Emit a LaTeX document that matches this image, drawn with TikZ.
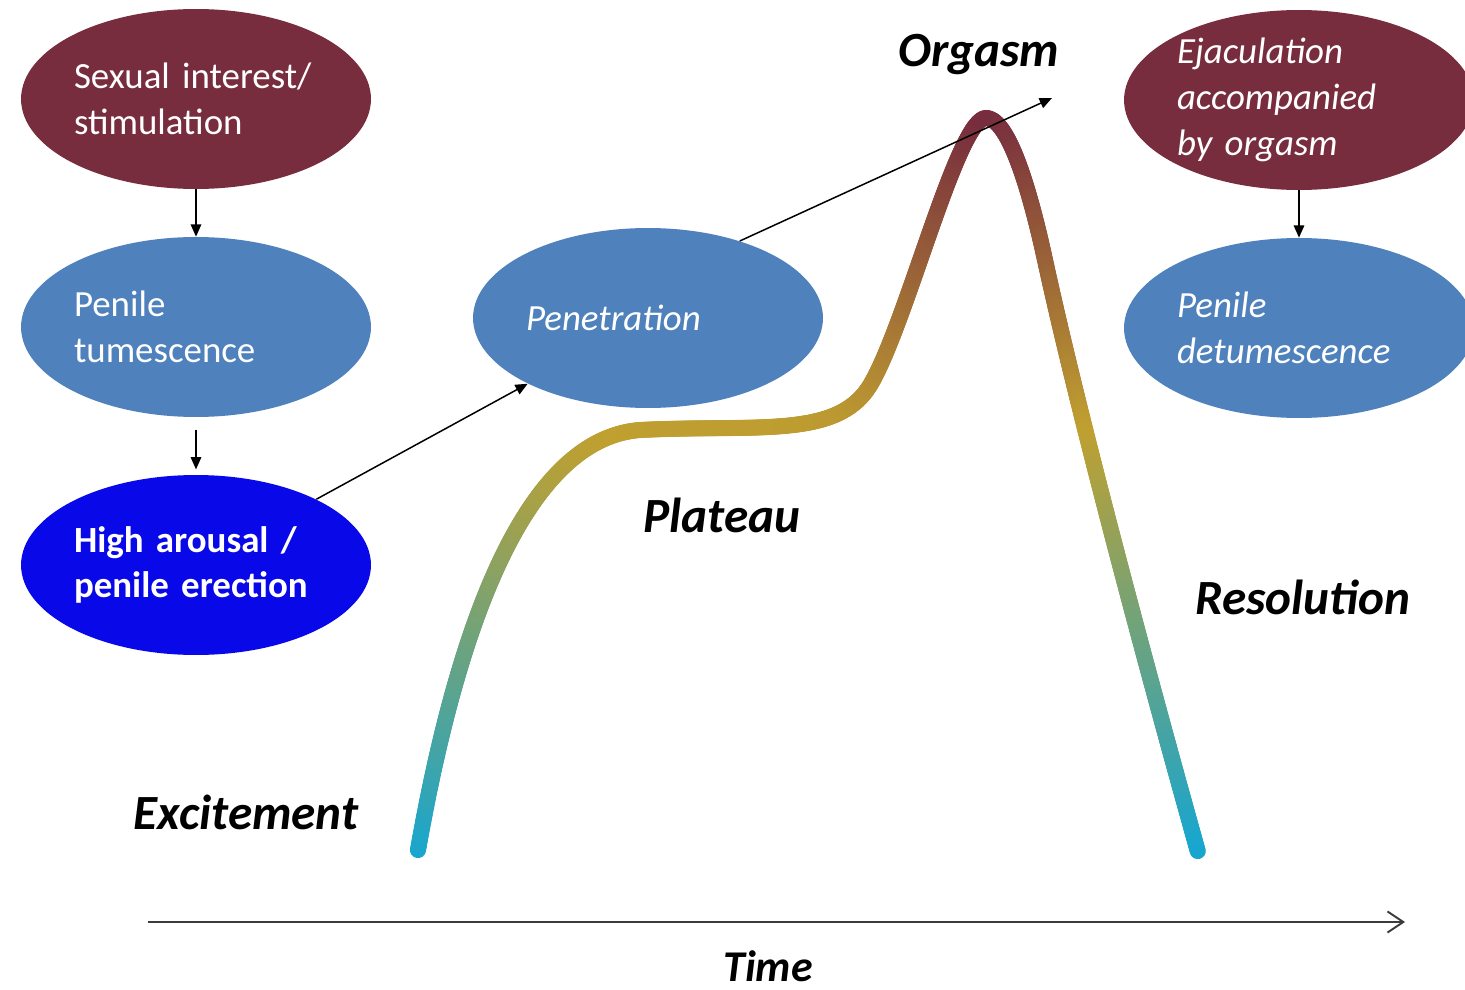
\documentclass[tikz,border=0pt]{standalone}
\usepackage{fontspec}
\setmainfont{Carlito}
\usepackage{tikz}
\usetikzlibrary{
  arrows.meta,
  positioning,
  shapes.geometric,
  decorations.markings
}
\definecolor{wine}{RGB}{120,45,62}
\definecolor{steel}{RGB}{79,129,189}
\definecolor{vivid}{RGB}{8,8,232}
\definecolor{cyanbase}{RGB}{24,166,206}
\definecolor{ochre}{RGB}{192,160,48}
\definecolor{axisgray}{RGB}{60,60,60}
\newcommand{\arcdot}{%
  \pgfgettransformentries{\ta}{\tb}{\tc}{\td}{\te}{\tf}%
  \pgfmathsetmacro{\sy}{max(0,min(1,(-\tf/0.56906-118)/732))}%
  \ifdim\sy pt<0.43pt
    \pgfmathtruncatemacro{\mixp}{\sy/0.43*100}%
    \colorlet{dotcol}{ochre!\mixp!wine}%
  \else
    \pgfmathtruncatemacro{\mixp}{(\sy-0.43)/0.57*100}%
    \colorlet{dotcol}{cyanbase!\mixp!ochre}%
  \fi
  \fill[dotcol] (0,0) circle (4.6pt);%
}

\begin{document}
\begin{tikzpicture}[x=0.02cm,y=-0.02cm,
  bubble/.style={ellipse,minimum width=7cm,minimum height=3.6cm,inner sep=0pt,
    text=white,text width=4.88cm,align=left,font=\fontsize{21}{26}\selectfont},
  phase/.style={font=\fontsize{28}{32}\selectfont\bfseries\itshape},
  link/.style={line width=0.85pt,-{Triangle[length=7pt,width=6pt]}},
  axis/.style={axisgray,line width=1.1pt,-{Straight Barb[length=9pt,width=12pt]}},
  gradline/.style={decoration={markings,mark=between positions 0 and 1 step 1pt with {\arcdot}},decorate}]
  \useasboundingbox (0,0) rectangle (1465,990);

  \path[gradline] (418,850) .. controls (448,680) and (510,440) .. (640,430)
    .. controls (760,424) and (840,440) .. (872,382)
    .. controls (908,318) and (958,118) .. (986,118)
    .. controls (1010,118) and (1032,200) .. (1045,260)
    .. controls (1082,430) and (1156,702) .. (1198,852);

  \node[bubble,fill=wine] (interest) at (196,99) {Sexual interest/\\stimulation};
  \node[bubble,fill=steel] (tumescence) at (196,327) {Penile\\tumescence};
  \node[bubble,fill=vivid,font=\fontsize{21}{26}\selectfont\bfseries] (arousal) at (196,565) {High arousal /\\penile erection};
  \node[bubble,fill=steel,font=\fontsize{21}{26}\selectfont\itshape] (penetration) at (648,318) {Penetration};
  \node[bubble,fill=wine,inner ysep=-5pt,font=\fontsize{21}{26}\selectfont\itshape] (ejaculation) at (1299,100) {Ejaculation\\accompanied\\by orgasm};
  \node[bubble,fill=steel,font=\fontsize{21}{26}\selectfont\itshape] (detumescence) at (1299,328) {Penile\\detumescence};

  \node[phase] (orgasm) at (979,55) {Orgasm};
  \node[phase] (plateau) at (722,515) {Plateau};
  \node[phase] (resolution) at (1303,597) {Resolution};
  \node[phase] (excitement) at (246,812) {Excitement};
  \node[phase,font=\fontsize{25}{28}\selectfont\bfseries\itshape] (time) at (768,966) {Time};

  \coordinate (orgtip) at (1052,98);
  \coordinate (t0) at (148,922);
  \coordinate (t1) at (1405,922);

  \draw[link] (interest) -- (tumescence);
  \draw[link,shorten <=7pt,shorten >=3pt] (tumescence) -- (arousal);
  \draw[link] (arousal) -- (penetration);
  \draw[link] (penetration.40) -- (orgtip);
  \draw[link] (ejaculation) -- (detumescence);
  \draw[axis] (t0) -- (t1);
\end{tikzpicture}
\end{document}
